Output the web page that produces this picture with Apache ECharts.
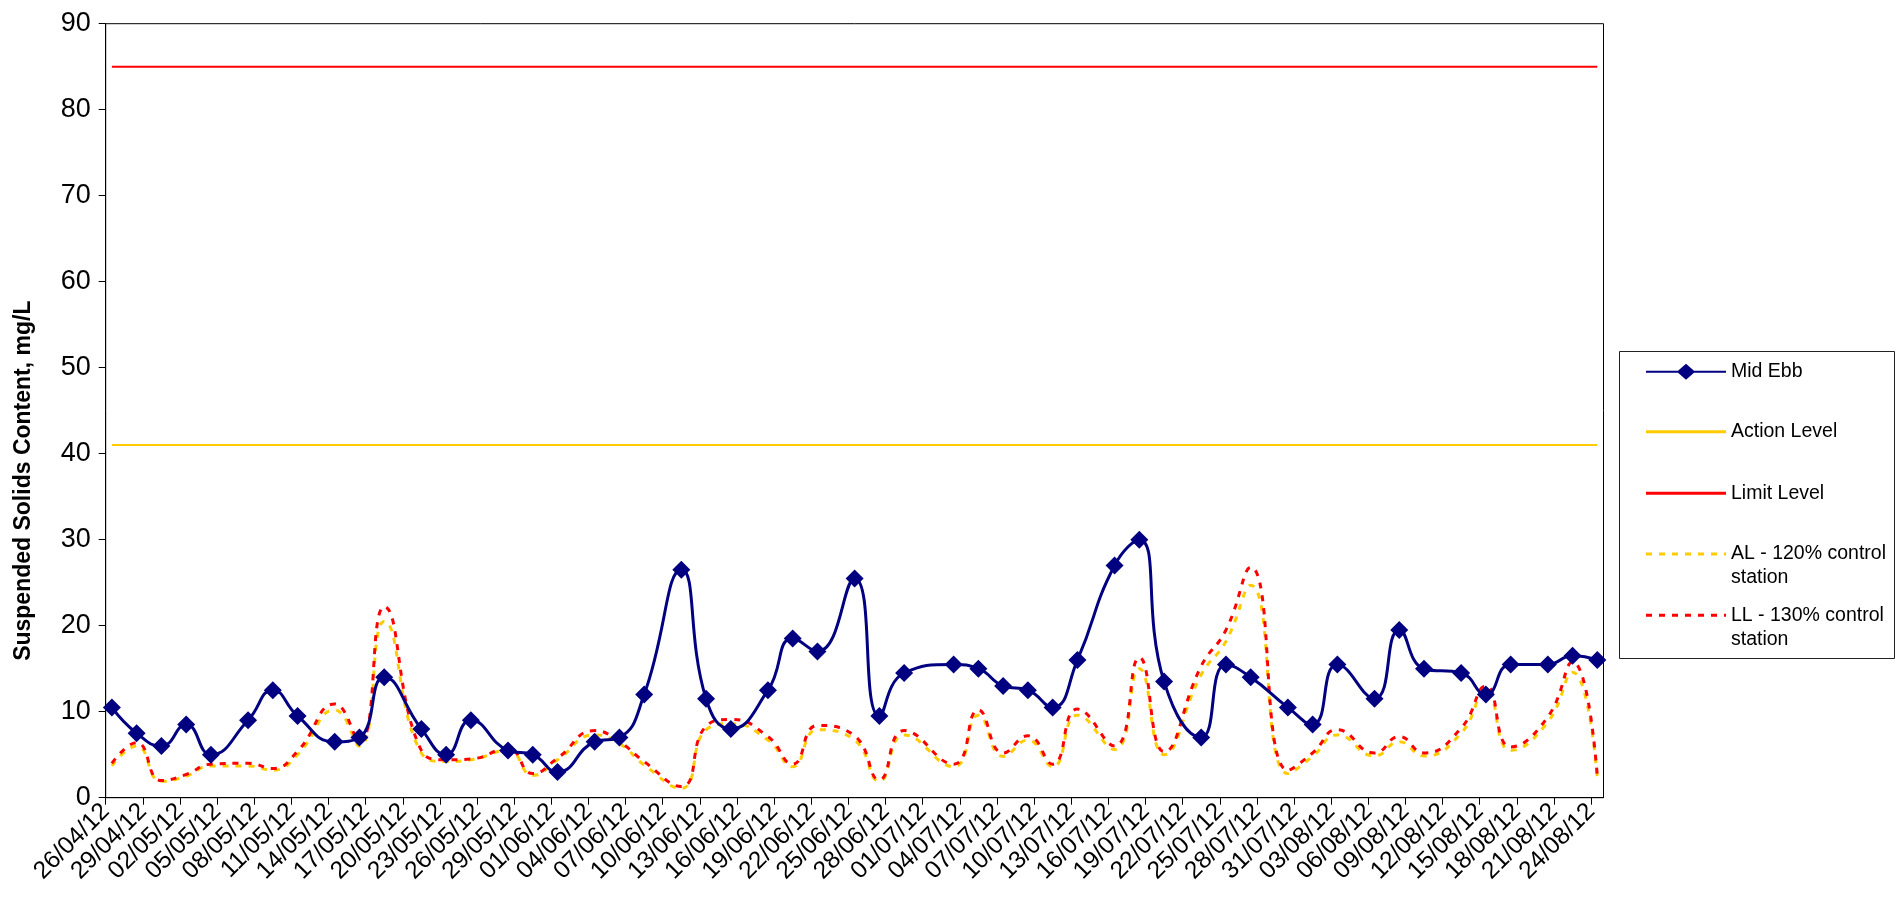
<!DOCTYPE html>
<html><head><meta charset="utf-8">
<script src="https://cdn.jsdelivr.net/npm/echarts@6/dist/echarts.min.js"></script>
<style>html,body{margin:0;padding:0;background:#fff}#c{width:1895px;height:915px}</style>
</head><body><div id="c"></div>
<script>
// ---- data ----
const axisStart = '26/04/12';
const axisEnd = '25/08/12';
const sampleDates = ['26/04/12','28/04/12','30/04/12','02/05/12','04/05/12','07/05/12','09/05/12','11/05/12','14/05/12','16/05/12',
  '18/05/12','21/05/12','23/05/12','25/05/12','28/05/12','30/05/12','01/06/12','04/06/12','06/06/12','08/06/12',
  '11/06/12','13/06/12','15/06/12','18/06/12','20/06/12','22/06/12','25/06/12','27/06/12','29/06/12','03/07/12',
  '05/07/12','07/07/12','09/07/12','11/07/12','13/07/12','16/07/12','18/07/12','20/07/12','23/07/12','25/07/12',
  '27/07/12','30/07/12','01/08/12','03/08/12','06/08/12','08/08/12','10/08/12','13/08/12','15/08/12','17/08/12',
  '20/08/12','22/08/12','24/08/12'];
const midEbb = [10.5,7.5,6,8.5,5,9,12.5,9.5,6.5,7,
  14,8,5,9,5.5,5,3,6.5,7,12,
  26.5,11.5,8,12.5,18.5,17,25.5,9.5,14.5,15.5,
  15,13,12.5,10.5,16,27,30,13.5,7,15.5,
  14,10.5,8.5,15.5,11.5,19.5,15,14.5,12,15.5,
  15.5,16.5,16];
const alControl = [3.7,6.0,1.9,2.5,3.7,3.7,3.2,5.0,10.2,6.0,
  20.5,5.2,4.2,4.4,5.5,2.6,4.4,7.3,6.3,3.8,
  1.1,7.9,8.6,6.7,3.6,7.9,6.7,1.9,7.3,3.6,
  9.6,4.8,6.7,3.6,9.6,5.6,15.0,5.0,14.3,18.2,
  24.7,2.8,4.8,7.3,4.85,6.5,4.85,7.5,12.5,5.5,
  8.8,14.6,2.3];
const llControl = [4.0,6.4,2.0,2.7,3.9,4.0,3.4,5.4,10.9,6.5,
  22.2,5.5,4.4,4.5,5.7,2.8,4.6,7.8,6.5,4.2,
  1.3,8.3,9.1,7.1,3.9,8.4,7.2,2.1,7.8,3.9,
  10.2,5.2,7.2,3.9,10.3,6.0,16.3,5.35,15.3,19.5,
  26.8,3.2,5.2,7.9,5.2,7.1,5.2,8.1,13.0,5.9,
  9.4,15.8,2.5];
const actionLevel = 41;
const limitLevel = 85;
const yMin = 0, yMax = 90, yStep = 10;
const xLabelStepDays = 3;
const seriesNames = ['Mid Ebb','Action Level','Limit Level','AL - 120% control station','LL - 130% control station'];
const legendLabels = ['Mid Ebb','Action Level','Limit Level','AL - 120% control\nstation','LL - 130% control\nstation'];
const yTitle = 'Suspended Solids Content, mg/L';

// ---- helpers ----
const DAY = 86400000;
function parseD(s){const p=s.split('/');return Date.UTC(2000+ +p[2], +p[1]-1, +p[0]);}
const t0 = parseD(axisStart);
function dayIdx(s){return Math.round((parseD(s)-t0)/DAY);}
function slot(s){return dayIdx(s)+0.5;} // point sits in the middle of its day
function fmt(v){const d=new Date(t0+Math.round(v)*DAY);const p=n=>String(n).padStart(2,'0');
  return p(d.getUTCDate())+'/'+p(d.getUTCMonth()+1)+'/'+p(d.getUTCFullYear()%100);}
const xMax = dayIdx(axisEnd);
const pairs = arr => sampleDates.map((d,i)=>[slot(d),arr[i]]);
const first = sampleDates[0], last = sampleDates[sampleDates.length-1];

const FONT = "'Liberation Sans', Arial, sans-serif";
const NAVY = '#000080', GOLD = '#FFCC00', RED = '#FF0000';
const SMOOTH = 0.5;

// legend icons
const iconMid = 'path://M0,7h32l8,-7l8,7h32v2h-32l-8,7l-8,-7h-32z';
const iconSolid = 'path://M0,0h80v3h-80z';
let dp = '';
for (let x=0; x<80; x+=13){ const w=Math.min(6,80-x); dp += 'M'+x+',0h'+w+'v3h-'+w+'z'; }
const iconDash = 'path://'+dp;

const legendCommon = {left:1646, orient:'vertical', padding:0, itemGap:0, itemWidth:80,
  itemStyle:{borderWidth:0}, textStyle:{fontFamily:FONT, fontSize:19.5, color:'#000'}};
const twoLine = Object.assign({}, legendCommon.textStyle, {lineHeight:24});

const chart = echarts.init(document.getElementById('c'), null, {renderer:'canvas'});
chart.setOption({
  animation:false,
  backgroundColor:'#fff',
  grid:{left:105.7, top:23.7, right:291.5, bottom:117.3, show:true, borderColor:'#000', borderWidth:1},
  xAxis:{type:'value', min:0, max:xMax, interval:xLabelStepDays,
    axisLine:{lineStyle:{color:'#000', width:1}},
    axisTick:{show:true, length:7, lineStyle:{color:'#000'}},
    splitLine:{show:false},
    axisLabel:{rotate:45, margin:10, fontFamily:FONT, fontSize:24.5, color:'#000', showMaxLabel:false, formatter:fmt}},
  yAxis:{type:'value', min:yMin, max:yMax, interval:yStep,
    name:yTitle, nameLocation:'middle', nameGap:71, nameRotate:90,
    nameTextStyle:{fontFamily:FONT, fontSize:23, fontWeight:'bold', color:'#000', padding:[0,140,0,0]},
    axisLine:{show:true, lineStyle:{color:'#000', width:1}},
    axisTick:{show:true, length:7, lineStyle:{color:'#000'}},
    splitLine:{show:false},
    axisLabel:{margin:15, fontFamily:FONT, fontSize:27, color:'#000'}},
  legend:[
    Object.assign({}, legendCommon, {top:361.7, itemHeight:16, data:[{name:seriesNames[0], icon:iconMid}]}),
    Object.assign({}, legendCommon, {top:421.7, itemHeight:3, data:[{name:seriesNames[1], icon:iconSolid}]}),
    Object.assign({}, legendCommon, {top:483.3, itemHeight:3, data:[{name:seriesNames[2], icon:iconSolid}]}),
    Object.assign({}, legendCommon, {top:518, itemHeight:3, data:[{name:seriesNames[3], icon:iconDash}],
      formatter:()=> '\n'+legendLabels[3], textStyle:twoLine}),
    Object.assign({}, legendCommon, {top:579.3, itemHeight:3, data:[{name:seriesNames[4], icon:iconDash}],
      formatter:()=> '\n'+legendLabels[4], textStyle:twoLine})
  ],
  graphic:[{type:'rect', silent:true, shape:{x:1619.5, y:351.5, width:275, height:307}, style:{fill:'none', stroke:'#222', lineWidth:1}}],
  series:[
    {name:seriesNames[3], type:'line', data:pairs(alControl), smooth:SMOOTH, symbol:'none', color:GOLD,
      itemStyle:{color:GOLD}, lineStyle:{color:GOLD, width:3, type:[6,7]}, z:2},
    {name:seriesNames[4], type:'line', data:pairs(llControl), smooth:SMOOTH, symbol:'none', color:RED,
      itemStyle:{color:RED}, lineStyle:{color:RED, width:3, type:[6,7]}, z:3},
    {name:seriesNames[1], type:'line', data:[[slot(first),actionLevel],[slot(last),actionLevel]], symbol:'none', color:GOLD,
      itemStyle:{color:GOLD}, lineStyle:{color:GOLD, width:2}, z:2},
    {name:seriesNames[2], type:'line', data:[[slot(first),limitLevel],[slot(last),limitLevel]], symbol:'none', color:RED,
      itemStyle:{color:RED}, lineStyle:{color:RED, width:2}, z:2},
    {name:seriesNames[0], type:'line', data:pairs(midEbb), smooth:SMOOTH, symbol:'diamond', symbolSize:18, color:NAVY,
      itemStyle:{color:NAVY}, lineStyle:{color:NAVY, width:3}, z:5}
  ]
});
</script></body></html>
